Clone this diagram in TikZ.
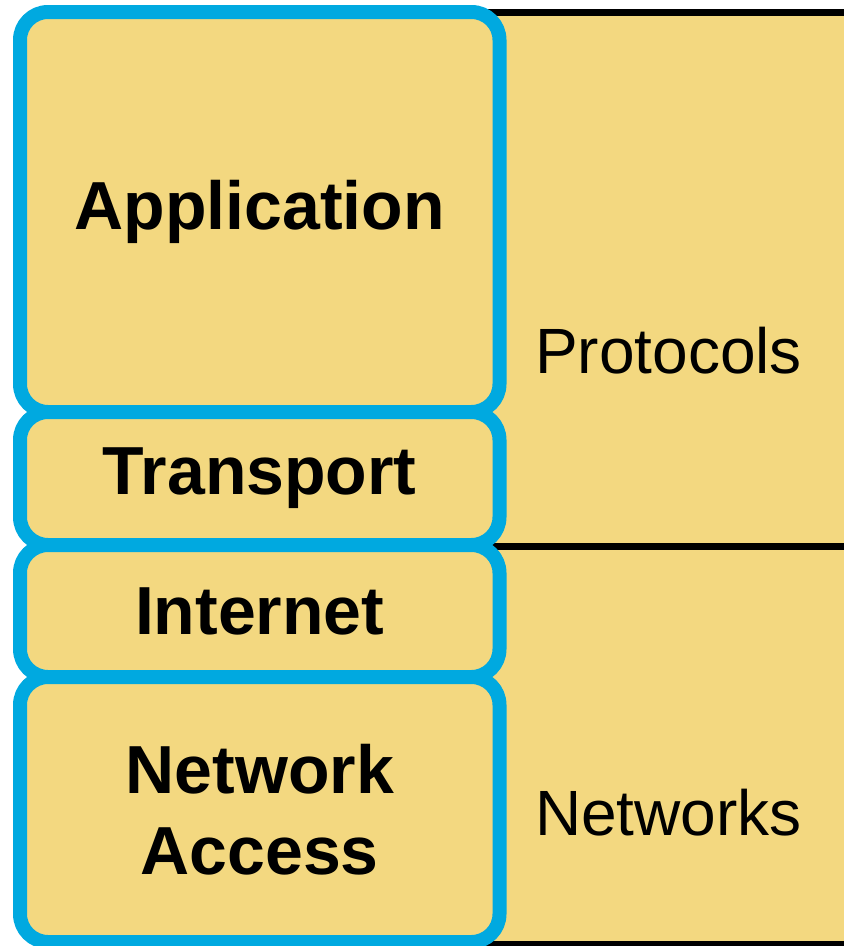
\documentclass[tikz,border=0pt]{standalone}
\usepackage{fontspec}
\setmainfont{Liberation Sans}
\definecolor{layerfill}{HTML}{F3D880}
\definecolor{layerblue}{HTML}{00A9E0}
\begin{document}
\begin{tikzpicture}[x=1pt,y=-1pt,
  region/.style={draw=black, line width=7pt, fill=layerfill, inner sep=0pt},
  layer/.style={draw=layerblue, line width=14pt, fill=layerfill, rounded corners=28pt,
    inner sep=0pt, minimum width=479.5pt, align=center,
    font=\fontsize{68}{81}\selectfont\bfseries},
  regionlabel/.style={anchor=base west, inner sep=0pt, font=\fontsize{64}{77}\selectfont}]
\useasboundingbox (0,0) rectangle (844,946);
\clip (0,0) rectangle (844,946);
% right-hand regions
\node[region, minimum width=420pt, minimum height=534pt] (proto) at (690,279) {};
\node[region, minimum width=420pt, minimum height=398pt] (nets) at (690,745) {};
% layers
\node[layer, minimum height=400pt] (app) at (259.75,212) {\raisebox{-4pt}{Application}};
\node[layer, minimum height=133pt] (trans) at (259.75,478.5) {Transport};
\node[layer, minimum height=132pt] (inet) at (259.75,611) {Internet};
\node[layer, minimum height=265pt] (nacc) at (259.75,809.5) {Network\\Access};
% labels
\node[regionlabel] (protolabel) at (535,373) {Protocols};
\node[regionlabel] (netslabel) at (535,835) {Networks};
\end{tikzpicture}
\end{document}
